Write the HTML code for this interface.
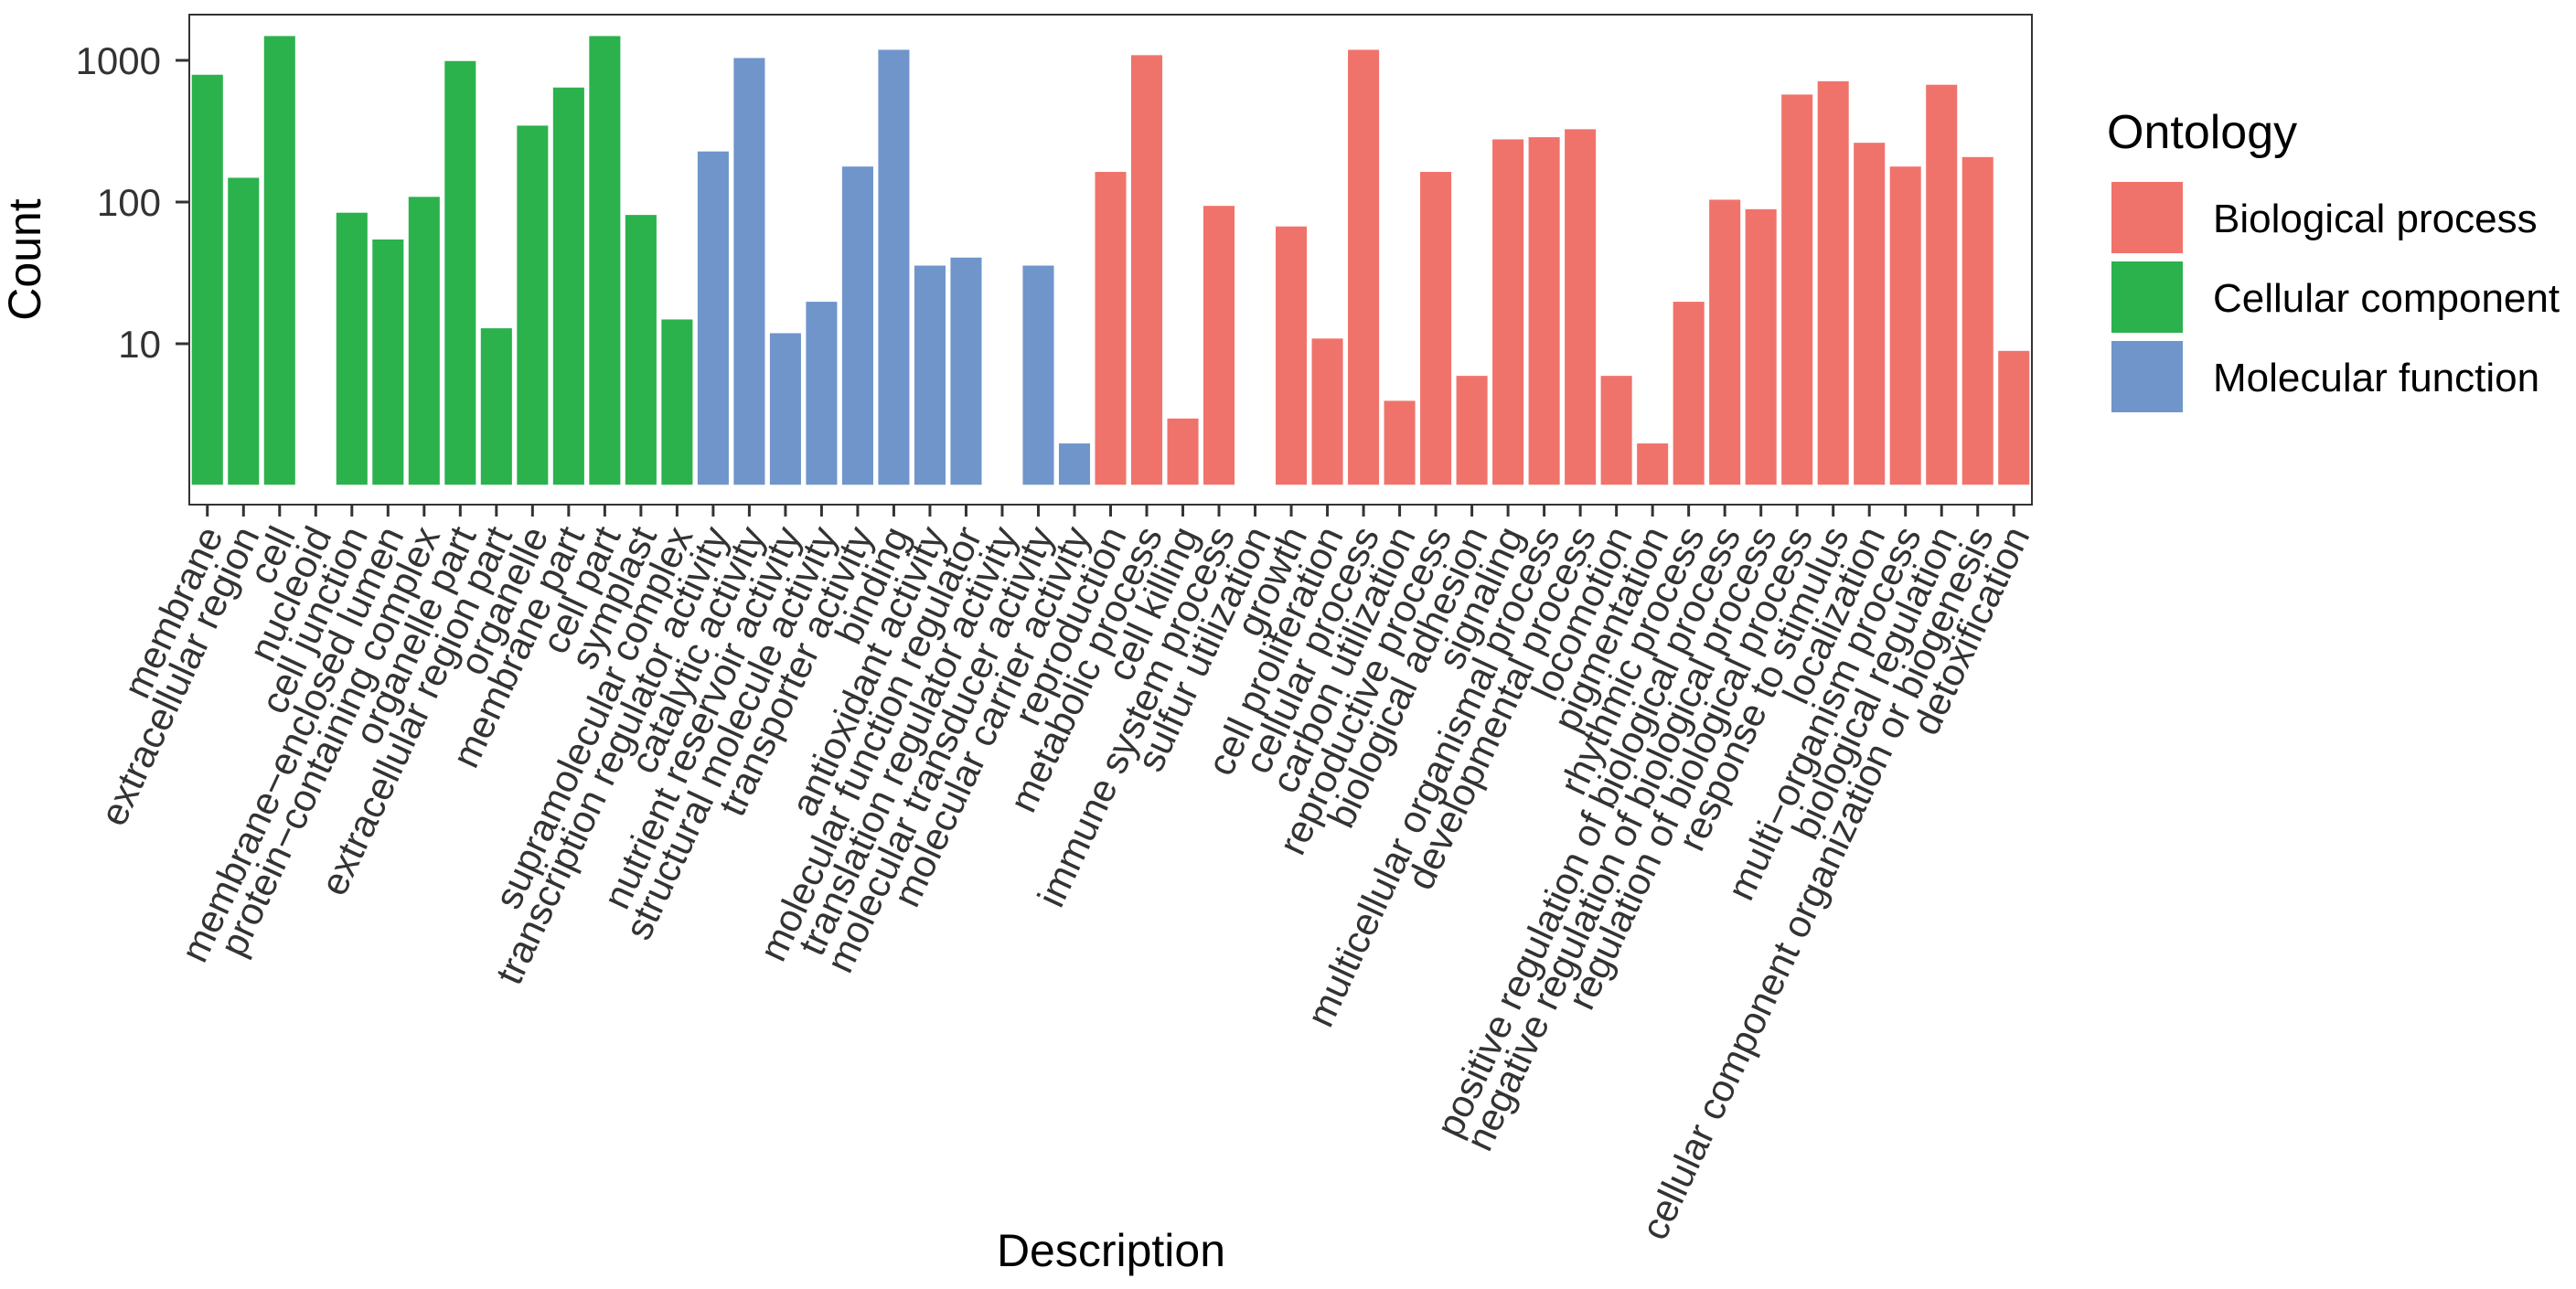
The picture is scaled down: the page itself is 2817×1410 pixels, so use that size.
<!DOCTYPE html>
<html><head><meta charset="utf-8"><style>
html,body{margin:0;padding:0;background:#fff;}
svg{display:block;font-family:"Liberation Sans",sans-serif;}
</style></head><body>
<svg id="chart" width="2817" height="1410" viewBox="0 0 2817 1410">
<rect x="0" y="0" width="2817" height="1410" fill="#fff"/>
<rect x="207" y="16" width="2015" height="536" fill="#fff" stroke="#333" stroke-width="2"/>
<g id="bars"></g>
<g id="xaxis"></g>
<g id="yaxis"></g>
<text x="44" y="284" font-size="50" text-anchor="middle" transform="rotate(-90 44 284)" fill="#000">Count</text>
<text x="1215" y="1385" font-size="50" text-anchor="middle" fill="#000">Description</text>
<g>
<text x="2304" y="162" font-size="52" fill="#000">Ontology</text>
<g><rect x="2308" y="198" width="80" height="80" fill="#F0736B" stroke="#fff" stroke-width="2"/><text x="2420" y="254" font-size="44" fill="#000">Biological process</text></g>
<g><rect x="2308" y="285" width="80" height="80" fill="#2BB24C" stroke="#fff" stroke-width="2"/><text x="2420" y="341" font-size="44" fill="#000">Cellular component</text></g>
<g><rect x="2308" y="372" width="80" height="80" fill="#6F95CB" stroke="#fff" stroke-width="2"/><text x="2420" y="428" font-size="44" fill="#000">Molecular function</text></g>
</g>
</svg>
<script>
const categories = ["membrane","extracellular region","cell","nucleoid","cell junction","membrane\u2212enclosed lumen","protein\u2212containing complex","organelle part","extracellular region part","organelle","membrane part","cell part","symplast","supramolecular complex",
"transcription regulator activity","catalytic activity","nutrient reservoir activity","structural molecule activity","transporter activity","binding","antioxidant activity","molecular function regulator","translation regulator activity","molecular transducer activity","molecular carrier activity",
"reproduction","metabolic process","cell killing","immune system process","sulfur utilization","growth","cell proliferation","cellular process","carbon utilization","reproductive process","biological adhesion","signaling","multicellular organismal process","developmental process","locomotion","pigmentation","rhythmic process","positive regulation of biological process","negative regulation of biological process","regulation of biological process","response to stimulus","localization","multi\u2212organism process","biological regulation","cellular component organization or biogenesis","detoxification"];
const counts = [800,150,1500,1,85,55,110,1000,13,350,650,1500,82,15,
230,1050,12,20,180,1200,36,41,1,36,2,
165,1100,3,95,1,68,11,1200,4,165,6,280,290,330,6,2,20,105,90,580,720,265,180,680,210,9];
const ontology = ["CC","CC","CC","CC","CC","CC","CC","CC","CC","CC","CC","CC","CC","CC",
"MF","MF","MF","MF","MF","MF","MF","MF","MF","MF","MF",
"BP","BP","BP","BP","BP","BP","BP","BP","BP","BP","BP","BP","BP","BP","BP","BP","BP","BP","BP","BP","BP","BP","BP","BP","BP","BP"];
const yTicks = [10,100,1000];
const yTickLabels = ["10","100","1000"];

const NS="http://www.w3.org/2000/svg";
const colors={BP:"#F0736B",CC:"#2BB24C",MF:"#6F95CB"};
const x0=207,x1=2222,base=531,decade=155;
const step=(x1-x0)/categories.length;
function xc(i){return x0+step*(i+0.5);}
function yv(v){return base-Math.log10(v)*decade;}
function mk(tag,attrs,parent){const e=document.createElementNS(NS,tag);for(const k in attrs)e.setAttribute(k,attrs[k]);parent.appendChild(e);return e;}
const bars=document.getElementById('bars'),xa=document.getElementById('xaxis'),ya=document.getElementById('yaxis');
const bw=step*0.9;
counts.forEach((v,i)=>{
  const top=yv(v);
  const r=mk('rect',{x:xc(i)-bw/2,y:top,width:bw,height:Math.max(base-top,0.5),fill:colors[ontology[i]],stroke:"#fff","stroke-width":1.5},bars);
  
  
  const t=mk('line',{x1:xc(i),x2:xc(i),y1:552,y2:565,stroke:"#333","stroke-width":3},xa);
  
  
  const lx=xc(i)+8,ly=580;
  const lb=mk('text',{x:lx,y:ly,"font-size":42,"text-anchor":"end",fill:"#333",transform:`rotate(-65 ${lx} ${ly})`,"dominant-baseline":"middle"},xa);
  lb.textContent=categories[i];
  
  
});
yTicks.forEach((v,i)=>{
  const y=yv(v);
  const t=mk('line',{x1:192,x2:207,y1:y,y2:y,stroke:"#333","stroke-width":3},ya);
  
  
  const lb=mk('text',{x:176,y:y+15,"font-size":42,"text-anchor":"end",fill:"#333"},ya);
  lb.textContent=yTickLabels[i];
  
  
});
</script>
</body></html>
